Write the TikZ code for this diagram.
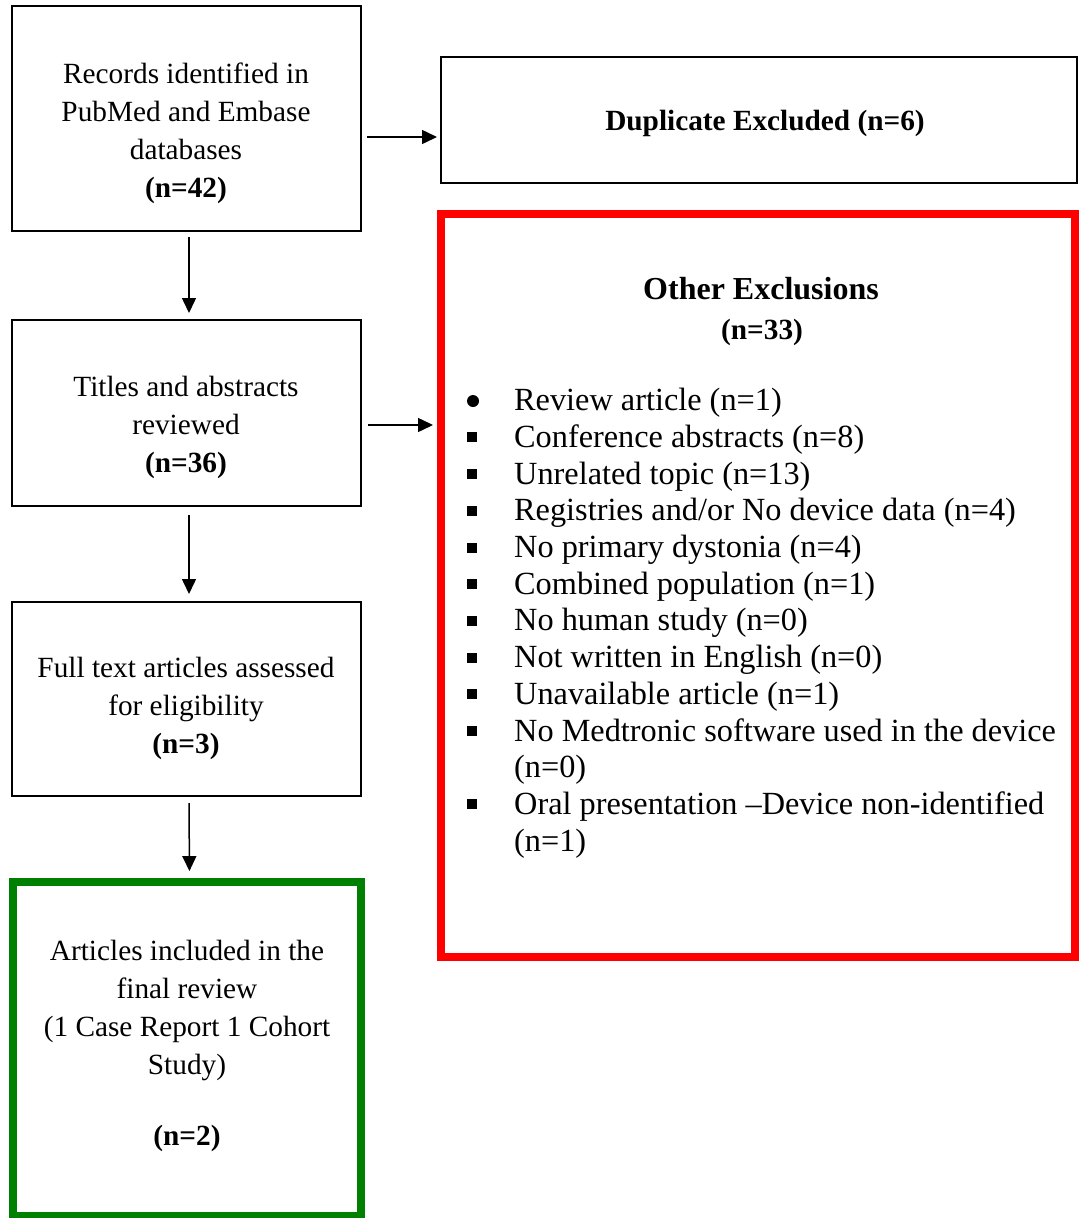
\documentclass[tikz,border=0pt]{standalone}
\usepackage{fontspec}
\setmainfont{Liberation Serif}
\usetikzlibrary{arrows.meta,positioning,calc}

\definecolor{exclred}{RGB}{255,0,0}
\definecolor{inclgreen}{RGB}{0,128,0}

\newcommand{\boxfont}{\fontsize{29.3}{38}\selectfont}
\newcommand{\listfont}{\fontsize{32.3}{36.7}\selectfont}
\newcommand{\sqbul}{\makebox[47pt][l]{\rule[5pt]{10pt}{10pt}}}
\newcommand{\nobul}{\hspace*{47pt}}

\begin{document}
\begin{tikzpicture}[x=1pt,y=-1pt,
    stage/.style={draw,line width=2pt,inner sep=0pt,outer sep=0pt,minimum width=349pt},
    boxtext/.style={anchor=base,inner sep=0pt,font=\boxfont},
    flow/.style={-{Triangle[length=15pt,width=14pt]},line width=1.5pt}]
    \useasboundingbox (0,0) rectangle (1079,1218);

    % Left column: screening stages
    \node[stage,minimum height=225pt] (rec) at (186.5,118.5) {};
    \node[boxtext] (rectxt) at (186,83.3) {\begin{tabular}[t]{@{}c@{}}Records identified in\\PubMed and Embase\\databases\\\textbf{(n=42)}\end{tabular}};

    \node[stage,minimum height=186pt] (tit) at (186.5,413) {};
    \node[boxtext] (tittxt) at (186,396.7) {\begin{tabular}[t]{@{}c@{}}Titles and abstracts\\reviewed\\\textbf{(n=36)}\end{tabular}};

    \node[stage,minimum height=194pt] (full) at (186.5,699) {};
    \node[boxtext] (fulltxt) at (186,677) {\begin{tabular}[t]{@{}c@{}}Full text articles assessed\\for eligibility\\\textbf{(n=3)}\end{tabular}};

    \node[draw=inclgreen,line width=8pt,inner sep=0pt,outer sep=0pt,minimum width=348pt,minimum height=333.5pt] (incl) at (187,1048.8) {};
    \node[boxtext] (incltxt) at (187,960) {\begin{tabular}[t]{@{}c@{}}Articles included in the\\final review\\(1 Case Report 1 Cohort\\Study)\\[33pt]\textbf{(n=2)}\end{tabular}};

    % Right column: exclusions
    \node[draw,line width=2pt,inner sep=0pt,outer sep=0pt,minimum width=636pt,minimum height=126pt] (dup) at (759,120) {};
    \node[boxtext] (duptxt) at (765,130) {\textbf{Duplicate Excluded (n=6)}};

    \node[draw=exclred,line width=8pt,inner sep=0pt,outer sep=0pt,minimum width=634pt,minimum height=743pt] (excl) at (758,585.5) {};
    \node[anchor=base,inner sep=0pt,font=\fontsize{32}{38}\selectfont\bfseries] (excltitle) at (761,299.3) {Other Exclusions};
    \node[boxtext,font=\boxfont\bfseries] (exclnum) at (762,339.5) {(n=33)};
    \fill (473,401) circle (6);
    \node[anchor=base west,inner sep=0pt,font=\listfont] (reasons) at (467,410.7) {\begin{tabular}[t]{@{}l@{}}
        \nobul Review article (n=1)\\
        \sqbul Conference abstracts (n=8)\\
        \sqbul Unrelated topic (n=13)\\
        \sqbul Registries and/or No device data (n=4)\\
        \sqbul No primary dystonia (n=4)\\
        \sqbul Combined population (n=1)\\
        \sqbul No human study (n=0)\\
        \sqbul Not written in English (n=0)\\
        \sqbul Unavailable article (n=1)\\
        \sqbul No Medtronic software used in the device\\
        \nobul (n=0)\\
        \sqbul Oral presentation –Device non-identified\\
        \nobul (n=1)
    \end{tabular}};

    % Arrows
    \coordinate (dupfrom) at ([yshift=-18.5pt]rec.east);
    \coordinate (exclfrom) at ([yshift=-12pt]tit.east);
    \draw[flow,shorten <=6pt,shorten >=4pt] (dupfrom) -- (dupfrom -| dup.west);
    \draw[flow,shorten <=7pt,shorten >=8pt] (exclfrom) -- (exclfrom -| excl.west);
    \draw[flow,shorten <=6pt,shorten >=7pt] ([xshift=2.5pt]rec.south) -- ([xshift=2.5pt]tit.north);
    \draw[flow,shorten <=9pt,shorten >=8pt] ([xshift=2.5pt]tit.south) -- ([xshift=2.5pt]full.north);
    \draw[flow,shorten <=7pt,shorten >=11pt] ([xshift=2.5pt]full.south) -- ([xshift=2.5pt]incl.north);
\end{tikzpicture}
\end{document}
